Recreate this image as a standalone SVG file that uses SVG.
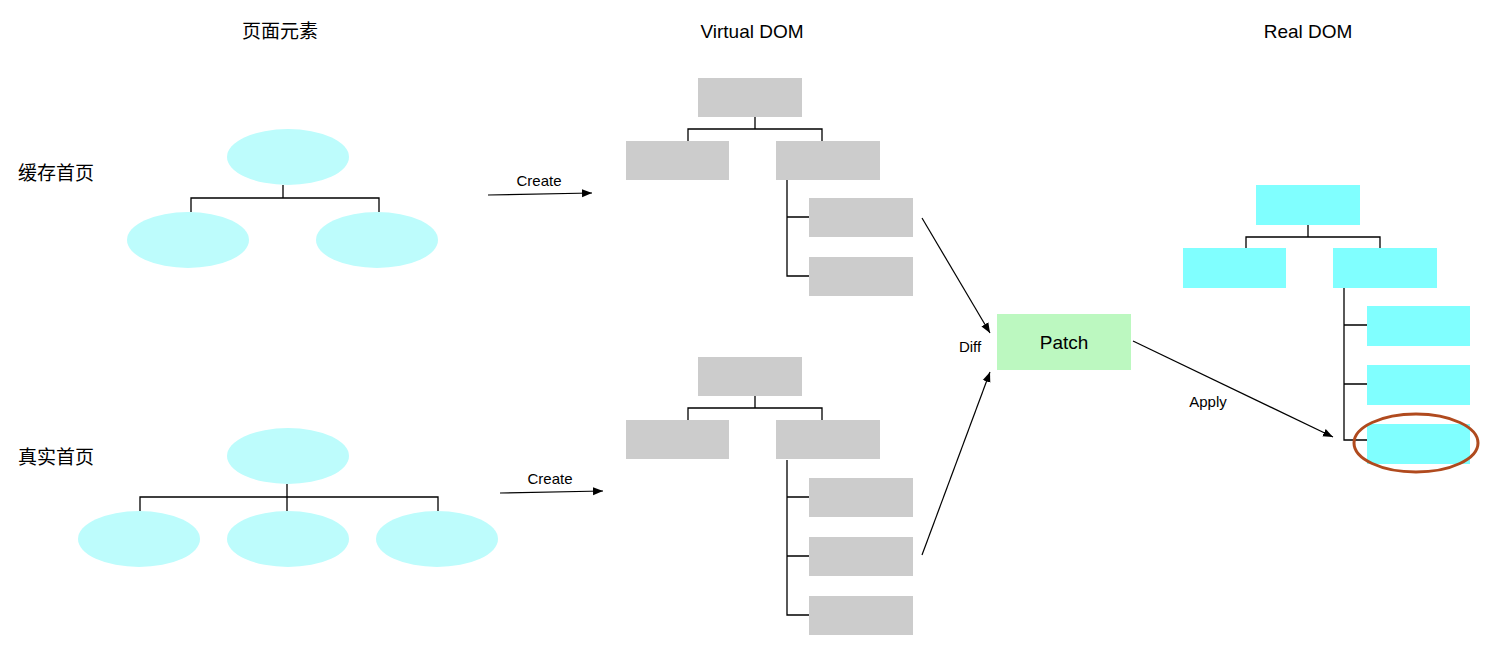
<svg xmlns="http://www.w3.org/2000/svg" width="1494" height="645" viewBox="0 0 1494 645">
<style>
text{font-family:"Liberation Sans","Noto Sans CJK SC",sans-serif;fill:#000}
.h{font-size:19px;text-anchor:middle}
.s{font-size:15px;text-anchor:middle}
.e{fill:#bdfcfc}
.g{fill:#cccccc}
.c{fill:#80ffff}
.l{fill:none;stroke:#000;stroke-width:1.3}
.a{fill:none;stroke:#000;stroke-width:1.2;marker-end:url(#ar)}
</style>
<defs><marker id="ar" viewBox="0 0 10 10" refX="10" refY="5" markerWidth="10" markerHeight="10" markerUnits="userSpaceOnUse" orient="auto"><path d="M0,1L10,5L0,9z" fill="#000"/></marker></defs>
<g id="titles">
<text class="h" x="280" y="38">页面元素</text>
<text class="h" x="752" y="38">Virtual DOM</text>
<text class="h" x="1308" y="38">Real DOM</text>
<text x="18" y="180" font-size="19">缓存首页</text>
<text x="18" y="464" font-size="19">真实首页</text>
</g>
<g id="connectors">
<path class="l" d="M283,185V198M191,212V198H379V212"/>
<path class="l" d="M287,484V511M140,511V497H438V511"/>
<path class="l" d="M755,117V129M688,141V129H822V141M787,180V276H809M787,217H809"/>
<path class="l" d="M755,396V408M688,420V408H822V420M787,460V615H809M787,497H809M787,556H809"/>
<path class="l" d="M1308,225V237M1246,248V237H1380V248M1344,288V440H1367M1344,325H1367M1344,384H1367"/>
<path class="a" d="M488,195L592,193"/>
<path class="a" d="M500,493L603,491"/>
<path class="a" d="M922,218L990,333"/>
<path class="a" d="M922,555L990,372"/>
<path class="a" d="M1133,341L1333,437"/>
<text class="s" x="539" y="186">Create</text>
<text class="s" x="550" y="484">Create</text>
<text class="s" x="970" y="352">Diff</text>
<text class="s" x="1208" y="407">Apply</text>
</g>
<g id="cache"><ellipse class="e" cx="288" cy="157" rx="61" ry="28"/><ellipse class="e" cx="188" cy="240" rx="61" ry="28"/><ellipse class="e" cx="377" cy="240" rx="61" ry="28"/></g>
<g id="real-page"><ellipse class="e" cx="288" cy="456" rx="61" ry="28"/><ellipse class="e" cx="139" cy="539" rx="61" ry="28"/><ellipse class="e" cx="288" cy="539" rx="61" ry="28"/><ellipse class="e" cx="437" cy="539" rx="61" ry="28"/></g>
<g id="vdom-top"><rect class="g" x="698" y="78" width="104" height="39"/><rect class="g" x="626" y="141" width="103" height="39"/><rect class="g" x="776" y="141" width="104" height="39"/><rect class="g" x="809" y="198" width="104" height="39"/><rect class="g" x="809" y="257" width="104" height="39"/></g>
<g id="vdom-bottom"><rect class="g" x="698" y="357" width="104" height="39"/><rect class="g" x="626" y="420" width="103" height="39"/><rect class="g" x="776" y="420" width="104" height="39"/><rect class="g" x="809" y="478" width="104" height="39"/><rect class="g" x="809" y="537" width="104" height="39"/><rect class="g" x="809" y="596" width="104" height="39"/></g>
<g id="patch"><rect x="997" y="314" width="134" height="56" fill="#bcf8c0"/><text x="1064" y="349" font-size="19" text-anchor="middle">Patch</text></g>
<g id="real-dom"><rect class="c" x="1256" y="185" width="104" height="40"/><rect class="c" x="1183" y="248" width="103" height="40"/><rect class="c" x="1333" y="248" width="104" height="40"/><rect class="c" x="1367" y="306" width="103" height="40"/><rect class="c" x="1367" y="365" width="103" height="40"/><rect class="c" x="1367" y="424" width="103" height="40"/>
<ellipse cx="1416" cy="443" rx="62" ry="29" fill="none" stroke="#b04a1e" stroke-width="3"/></g>
</svg>
